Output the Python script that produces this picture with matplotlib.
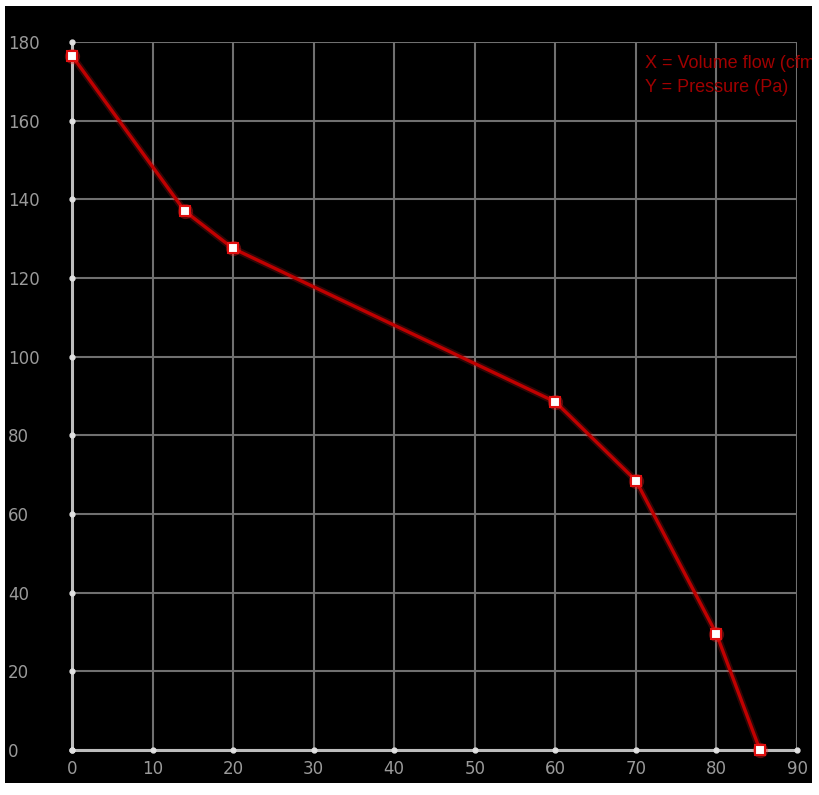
import matplotlib
matplotlib.use('Agg')
import matplotlib.pyplot as plt
from matplotlib.patches import Rectangle

# curva caudal / presion
caudal = [0, 14, 20, 60, 70, 80, 85.4]
presion = [176.5, 137, 127.5, 88.5, 68.5, 29.5, 0]

xticks = [0, 10, 20, 30, 40, 50, 60, 70, 80, 90]
yticks = [0, 20, 40, 60, 80, 100, 120, 140, 160, 180]
leyenda = ['X = Volume flow (cfm)', 'Y = Pressure (Pa)']

W, H = 820, 795
fig = plt.figure(figsize=(W / 100, H / 100), dpi=100, facecolor='white')

# fondo negro
fondo = Rectangle((5 / W, 1 - 783 / H), 807 / W, 777 / H,
                  transform=fig.transFigure, facecolor='black', edgecolor='none', zorder=-5)
fig.patches.append(fondo)

ax = fig.add_axes([72 / W, 1 - 750 / H, 725 / W, 708 / H])
ax.set_facecolor('black')
ax.set_xlim(0, 90)
ax.set_ylim(0, 180)

ax.set_xticks(xticks)
ax.set_yticks(yticks)
ax.grid(True, color='#707070', linewidth=1.5)
ax.set_axisbelow(True)

for s in ['top', 'right']:
    ax.spines[s].set_visible(False)
for s in ['left', 'bottom']:
    ax.spines[s].set_color('#bdbdbd')
    ax.spines[s].set_linewidth(2.2)
    ax.spines[s].set_zorder(3)

fuente = ['Liberation Sans Narrow', 'DejaVu Sans']
ax.tick_params(axis='both', length=0, labelcolor='#9a9a9a', labelsize=12)
ax.tick_params(axis='y', pad=46)
ax.tick_params(axis='x', pad=7)
for lab in ax.get_yticklabels():
    lab.set_horizontalalignment('left')
    lab.set_family(fuente)
for lab in ax.get_xticklabels():
    lab.set_family(fuente)

# puntitos blancos en las marcas
ax.plot(xticks, [0] * len(xticks), 'o', color='#e0e0e0', ms=3.5, clip_on=False, zorder=4)
ax.plot([0] * len(yticks), yticks, 'o', color='#e0e0e0', ms=3.5, clip_on=False, zorder=4)

# curva con brillo
ax.plot(caudal, presion, color='#ff2020', linewidth=5, alpha=0.2, clip_on=False, zorder=5)
ax.plot(caudal, presion, color='#c00000', linewidth=2.4, clip_on=False, zorder=6)
ax.plot(caudal, presion, 'o', ms=11, markerfacecolor='#ff2020', markeredgecolor='none',
        alpha=0.35, clip_on=False, zorder=7)
ax.plot(caudal, presion, 's', ms=7, markerfacecolor='white', markeredgecolor='#e01010',
        markeredgewidth=1.5, clip_on=False, zorder=8)

for i, txt in enumerate(leyenda):
    t = fig.text(645 / W, 1 - (64 + i * 23) / H, txt, color='#a00000', fontsize=13,
                 va='center', ha='left', family=['Liberation Sans', 'DejaVu Sans'])
    t.set_clip_path(fondo)
    t.set_clip_on(True)

fig.savefig('out.png', dpi=100, facecolor='white')
